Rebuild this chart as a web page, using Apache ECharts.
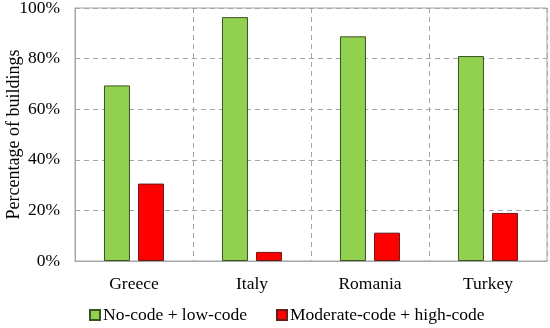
<!DOCTYPE html>
<html><head><meta charset="utf-8">
<script src="https://cdn.jsdelivr.net/npm/echarts@6/dist/echarts.min.js"></script>
<style>html,body{margin:0;padding:0;background:#fff}#c{width:550px;height:328px}</style>
</head><body><div id="c"></div>
<script>
const categories = ['Greece', 'Italy', 'Romania', 'Turkey'];
const noCodeLow = [69.4, 96.4, 88.8, 81.0];
const moderateHigh = [30.6, 3.6, 11.2, 19.0];
const seriesNames = ['No-code + low-code', 'Moderate-code + high-code'];
const yTicks = [0, 20, 40, 60, 80, 100];

const font = 'Liberation Serif, Times New Roman, serif';
const fs = 17.5;
const chart = echarts.init(document.getElementById('c'));
chart.setOption({
  animation: false,
  textStyle: { fontFamily: font },
  grid: { left: 75, right: 3, top: 8, bottom: 67, show: true, borderColor: '#a6a6a6', borderWidth: 1,
          containLabel: false, outerBoundsMode: 'none' },
  legend: {
    bottom: -1, left: 84, itemWidth: 10, itemHeight: 10, itemGap: 29,
    icon: 'rect',
    textStyle: { fontFamily: font, fontSize: fs, color: '#000', padding: [0, 0, 0, -2] },
    data: seriesNames
  },
  xAxis: {
    type: 'category', data: categories,
    axisLine: { show: true, lineStyle: { color: '#a6a6a6' } },
    axisTick: { show: false },
    axisLabel: { fontFamily: font, fontSize: fs, color: '#000', margin: 14 },
    splitLine: { show: true, lineStyle: { type: [5, 4], color: '#a6a6a6' } }
  },
  yAxis: {
    type: 'value', min: 0, max: 100, interval: 20,
    name: 'Percentage of buildings', nameLocation: 'middle', nameGap: 52, nameMoveOverlap: false,
    nameTextStyle: { fontFamily: font, fontSize: 18, color: '#000' },
    axisLine: { show: true, lineStyle: { color: '#a6a6a6' } },
    axisTick: { show: false },
    axisLabel: { fontFamily: font, fontSize: fs, color: '#000', margin: 15,
      formatter: v => yTicks.includes(v) ? v + '%' : '' },
    splitLine: { show: true, lineStyle: { type: [5, 4], color: '#a6a6a6' } }
  },
  series: [
    { name: seriesNames[0], type: 'bar', data: noCodeLow, barWidth: 26, barGap: '31%',
      itemStyle: { color: '#92d050', borderColor: '#3b5323', borderWidth: 1 } },
    { name: seriesNames[1], type: 'bar', data: moderateHigh, barWidth: 26,
      itemStyle: { color: '#ff0000', borderColor: '#6b1a1a', borderWidth: 1 } }
  ]
});
</script></body></html>
